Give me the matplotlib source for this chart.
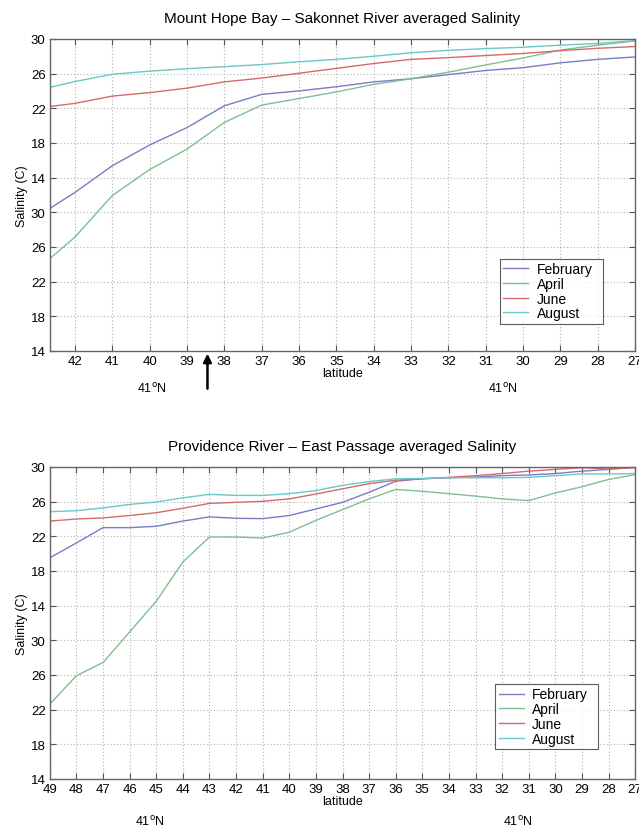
import numpy as np
import matplotlib
matplotlib.use('Agg')
import matplotlib.pyplot as plt

plt.rcParams['font.family'] = ['Liberation Sans', 'DejaVu Sans']

# y axis is drawn on an index scale 0..9, tick labels copied as printed
ytick_labels = ['14', '18', '22', '26', '30', '14', '18', '22', '26', '30']

# Mount Hope Bay - Sakonnet River
lat_top = [42.67, 42, 41, 40, 39, 38, 37, 36, 35, 34, 33, 32, 31, 30, 29, 28, 27]
feb_top = [4.11, 4.57, 5.34, 5.94, 6.44, 7.07, 7.40, 7.50, 7.62, 7.76, 7.85, 7.97, 8.09, 8.17, 8.31, 8.41, 8.48]
apr_top = [2.66, 3.28, 4.48, 5.23, 5.82, 6.59, 7.09, 7.28, 7.47, 7.69, 7.85, 8.04, 8.25, 8.45, 8.68, 8.82, 8.94]
jun_top = [7.05, 7.14, 7.35, 7.45, 7.58, 7.76, 7.87, 8.01, 8.15, 8.29, 8.41, 8.46, 8.52, 8.58, 8.66, 8.73, 8.78]
aug_top = [7.60, 7.77, 7.98, 8.07, 8.14, 8.20, 8.26, 8.34, 8.41, 8.50, 8.60, 8.67, 8.72, 8.76, 8.82, 8.87, 8.95]

# Providence River - East Passage
lat_bot = [49, 48, 47, 46, 45, 44, 43, 42, 41, 40, 39, 38, 37, 36, 35, 34, 33, 32, 31, 30, 29, 28, 27]
feb_bot = [6.38, 6.81, 7.25, 7.25, 7.29, 7.44, 7.56, 7.52, 7.51, 7.60, 7.79, 7.98, 8.27, 8.59, 8.66, 8.69, 8.71, 8.75, 8.77, 8.81, 8.88, 8.93, 9.00]
apr_bot = [2.16, 2.98, 3.36, 4.24, 5.13, 6.26, 6.98, 6.98, 6.95, 7.12, 7.46, 7.77, 8.08, 8.35, 8.30, 8.23, 8.16, 8.08, 8.03, 8.25, 8.43, 8.64, 8.78]
jun_bot = [7.44, 7.50, 7.53, 7.60, 7.68, 7.81, 7.95, 7.98, 8.01, 8.08, 8.22, 8.37, 8.52, 8.62, 8.66, 8.70, 8.75, 8.81, 8.88, 8.93, 8.98, 8.94, 8.98]
aug_bot = [7.71, 7.74, 7.82, 7.92, 7.99, 8.11, 8.21, 8.18, 8.18, 8.23, 8.32, 8.47, 8.58, 8.66, 8.67, 8.69, 8.69, 8.69, 8.70, 8.75, 8.80, 8.80, 8.81]

months = ['February', 'April', 'June', 'August']
colors = ['#7b7bc8', '#7fbf8f', '#d46a6a', '#6cc7c7']

fig = plt.figure(figsize=(6.39, 8.28), dpi=100)
ax1 = fig.add_axes([0.078, 0.575, 0.916, 0.3768])
ax2 = fig.add_axes([0.078, 0.058, 0.916, 0.3768])


def style_axis(ax, title, xticks, xlim):
    ax.set_xlim(*xlim)
    ax.set_ylim(0, 9)
    ax.set_yticks(range(10))
    ax.set_yticklabels(ytick_labels)
    ax.set_xticks(xticks)
    ax.set_xticklabels([str(t) for t in xticks])
    ax.grid(True, linestyle=(0, (1, 2)), color='#b0b0b0', linewidth=0.8)
    ax.tick_params(direction='in', length=4, labelsize=9.5, top=True, right=True,
                   color='#555555', pad=3)
    for s in ax.spines.values():
        s.set_color('#666666')
        s.set_linewidth(1.0)
    ax.set_title(title, fontsize=11, pad=12)
    ax.set_ylabel('Salinity (C)', fontsize=9, labelpad=2)
    ax.set_xlabel('latitude', fontsize=9, labelpad=0)


def add_legend(ax, anchor):
    leg = ax.legend(loc='lower left', bbox_to_anchor=anchor, mode='expand',
                    fontsize=10, frameon=True, fancybox=False, borderpad=0.25,
                    borderaxespad=0, labelspacing=0.05, handlelength=1.8,
                    handletextpad=0.6)
    leg.get_frame().set_edgecolor('#333333')
    leg.get_frame().set_linewidth(0.8)


series_top = [feb_top, apr_top, jun_top, aug_top]
for vals, m, c in zip(series_top, months, colors):
    ax1.plot(lat_top, vals, color=c, linewidth=1.0, label=m)
style_axis(ax1, 'Mount Hope Bay \u2013 Sakonnet River averaged Salinity',
           list(range(42, 26, -1)), (42.67, 27))
add_legend(ax1, (0.769, 0.087, 0.176, 0.2))
ax1.text(0.175, -0.12, '41$^{\\rm o}$N', transform=ax1.transAxes, ha='center', va='center', fontsize=9)
ax1.text(0.774, -0.12, '41$^{\\rm o}$N', transform=ax1.transAxes, ha='center', va='center', fontsize=9)
ax1.annotate('', xy=(38.45, 0.0), xytext=(38.45, -0.13),
             xycoords=('data', 'axes fraction'), textcoords=('data', 'axes fraction'),
             arrowprops=dict(arrowstyle='-|>', color='black', lw=1.8, mutation_scale=12),
             annotation_clip=False)

series_bot = [feb_bot, apr_bot, jun_bot, aug_bot]
for vals, m, c in zip(series_bot, months, colors):
    ax2.plot(lat_bot, vals, color=c, linewidth=1.0, label=m)
style_axis(ax2, 'Providence River \u2013 East Passage averaged Salinity',
           list(range(49, 26, -1)), (49, 27))
add_legend(ax2, (0.761, 0.096, 0.175, 0.2))
ax2.text(0.171, -0.135, '41$^{\\rm o}$N', transform=ax2.transAxes, ha='center', va='center', fontsize=9)
ax2.text(0.80, -0.135, '41$^{\\rm o}$N', transform=ax2.transAxes, ha='center', va='center', fontsize=9)

fig.savefig('out.png', dpi=100)
